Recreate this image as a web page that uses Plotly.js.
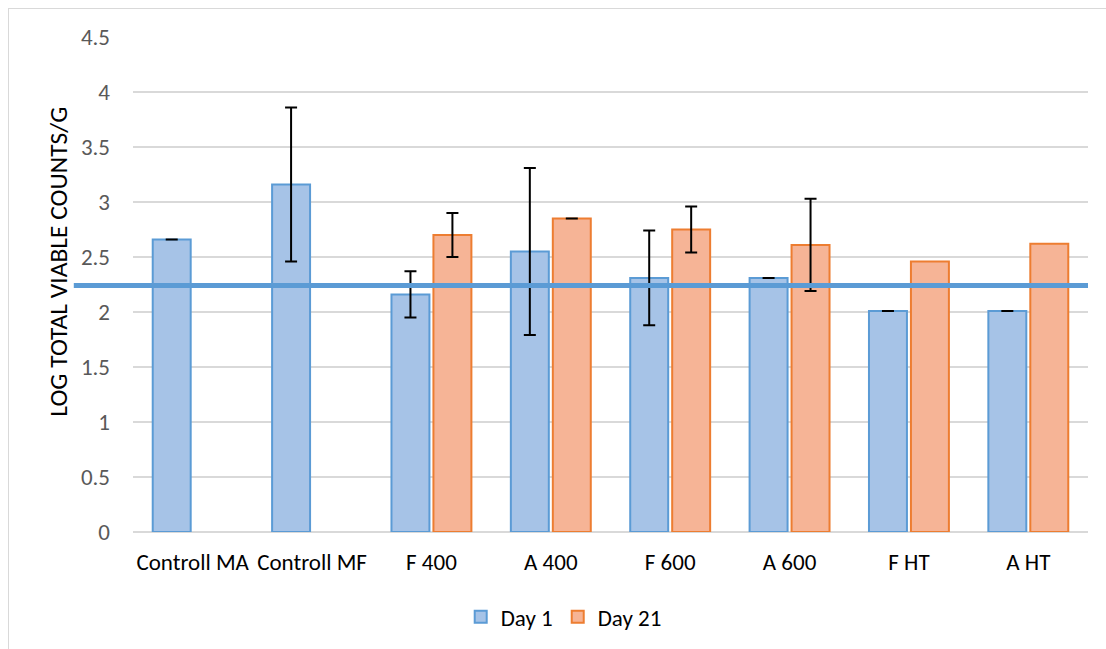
<!DOCTYPE html>
<html>
<head>
<meta charset="utf-8">
<script src="https://cdn.plot.ly/plotly-3.0.1.min.js"></script>
<style>
html,body{margin:0;padding:0;background:#fff;}
#wrap{position:relative;width:1106px;height:649px;overflow:hidden;}
#frame{position:absolute;left:8px;top:8px;width:1110px;height:660px;border:1px solid #d9d9d9;box-sizing:border-box;pointer-events:none;z-index:5;}
#chart{position:absolute;left:0;top:0;width:1106px;height:649px;}
</style>
</head>
<body>
<div id="wrap"><div id="chart"></div><div id="frame"></div></div>
<script>
const categories = ["Controll MA","Controll MF","F 400","A 400","F 600","A 600","F HT","A HT"];
const day1 = [2.66, 3.16, 2.16, 2.55, 2.31, 2.31, 2.01, 2.01];
const day1Err = [0, 0.70, 0.21, 0.76, 0.43, 0, 0, 0];
const day21 = [null, null, 2.70, 2.85, 2.75, 2.61, 2.46, 2.62];
const day21Err = [null, null, 0.20, 0, 0.21, 0.42, null, null];
const threshold = 2.24;
const yTicks = [0,0.5,1,1.5,2,2.5,3,3.5,4,4.5];
const yTickText = ["0","0.5","1","1.5","2","2.5","3","3.5","4","4.5"];
const yTitle = "LOG TOTAL VIABLE COUNTS/G";

const font = "Carlito, Calibri, Lato, 'Open Sans', sans-serif";
// missing error values -> no error bar drawn
const errArr = a => a.map(v => (v === null ? NaN : v));

const traces = [
  {
    type: "bar", name: "Day 1", x: categories, y: day1,
    marker: {color: "#a6c3e7", line: {color: "#5b9bd5", width: 2}},
    error_y: {type: "data", array: errArr(day1Err), visible: true, color: "#000000", thickness: 2, width: 6}
  },
  {
    type: "bar", name: "Day 21", x: categories, y: day21,
    marker: {color: "#f6b496", line: {color: "#ed7d31", width: 2}},
    error_y: {type: "data", array: errArr(day21Err), visible: true, color: "#000000", thickness: 2, width: 6}
  }
];

const layout = {
  width: 1106, height: 649,
  margin: {l: 133, r: 18, t: 37, b: 116},
  paper_bgcolor: "rgba(0,0,0,0)", plot_bgcolor: "#ffffff",
  barmode: "group", bargap: 0.297, bargroupgap: 0.095,
  font: {family: font, color: "#000000"},
  showlegend: true,
  legend: {orientation: "h", xref: "paper", x: 0.451, xanchor: "center", yref: "paper", y: -0.169, yanchor: "middle",
           font: {family: font, size: 23, color: "#000000"}, traceorder: "normal", itemwidth: 30},
  xaxis: {
    type: "category", showgrid: false, zeroline: false, showline: false, ticks: "",
    tickfont: {family: font, size: 23, color: "#000000"}, ticklabelstandoff: 14
  },
  yaxis: {
    range: [0, 4.5], tickvals: yTicks, ticktext: yTickText, showgrid: true, gridcolor: "#d9d9d9", gridwidth: 2,
    zeroline: true, zerolinecolor: "#d9d9d9", zerolinewidth: 2, showline: false, ticks: "",
    tickfont: {family: font, size: 23, color: "#595959"}, ticklabelstandoff: 22
  },
  annotations: [
    {text: yTitle, xref: "paper", yref: "paper", x: -0.0775, y: 0.546, xanchor: "center", yanchor: "middle",
     textangle: -90, showarrow: false, font: {family: font, size: 25.5, color: "#000000"}}
  ],
  shapes: [
    {type: "line", xref: "paper", yref: "y", x0: -0.062, x1: 1, y0: threshold, y1: threshold,
     line: {color: "#5b9bd5", width: 5}, layer: "above"}
  ]
};

Plotly.newPlot("chart", traces, layout, {displayModeBar: false, staticPlot: true});
</script>
</body>
</html>
